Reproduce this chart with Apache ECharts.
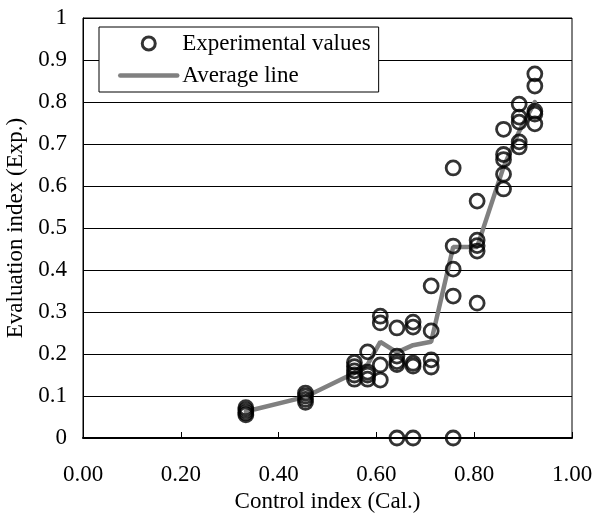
<!DOCTYPE html>
<html>
<head>
<meta charset="utf-8">
<script src="https://cdn.jsdelivr.net/npm/echarts@6/dist/echarts.min.js"></script>
<style>
  html, body { margin: 0; padding: 0; background: #fff; }
  #chart { width: 592px; height: 518px; }
</style>
</head>
<body>
<div id="chart"></div>
<script>
// control index of each measured group, and evaluation values measured there
var groupX = [0.333, 0.455, 0.555, 0.582, 0.608, 0.642, 0.675, 0.712, 0.757, 0.806, 0.86, 0.892, 0.924];
var groupY = [
    [0.055, 0.06, 0.066, 0.072],
    [0.085, 0.092, 0.1, 0.107],
    [0.14, 0.15, 0.16, 0.17, 0.18],
    [0.14, 0.15, 0.157, 0.205],
    [0.138, 0.174, 0.274, 0.29],
    [0, 0.175, 0.182, 0.195, 0.262],
    [0, 0.171, 0.178, 0.264, 0.276],
    [0.169, 0.186, 0.255, 0.362],
    [0, 0.338, 0.402, 0.457, 0.643],
    [0.321, 0.445, 0.458, 0.471, 0.564],
    [0.593, 0.628, 0.663, 0.675, 0.735],
    [0.693, 0.705, 0.752, 0.764, 0.795],
    [0.748, 0.771, 0.778, 0.838, 0.867]
];
var avgX = [0.333, 0.455, 0.555, 0.582, 0.608, 0.642, 0.675, 0.712, 0.757, 0.806, 0.86, 0.892, 0.924];
var avgY = [0.063, 0.098, 0.155, 0.175, 0.229, 0.204, 0.221, 0.229, 0.455, 0.455, 0.645, 0.73, 0.80];

var expData = [];
groupX.forEach(function (x, i) {
    groupY[i].forEach(function (y) {
        expData.push([x, y]);
    });
});
var avgData = avgX.map(function (x, i) { return [x, avgY[i]]; });

var font = '"Liberation Serif", "Times New Roman", serif';
var fs = 23;

var option = {
    backgroundColor: '#fff',
    animation: false,
    textStyle: { fontFamily: font },
    grid: {
        left: 83, right: 20, top: 18, bottom: 80,
        outerBoundsMode: 'none',
        containLabel: false,
        show: true, borderColor: '#000', borderWidth: 1
    },
    legend: {
        orient: 'vertical',
        left: 99, top: 27,
        padding: [5, 8, 5, 19],
        itemGap: 9,
        itemWidth: 57, itemHeight: 13,
        backgroundColor: '#fff',
        borderColor: '#000', borderWidth: 1,
        textStyle: { fontFamily: font, fontSize: fs, color: '#000' },
        data: [
            {
                name: 'Experimental values', icon: 'circle',
                itemStyle: { color: '#fff', borderColor: '#000', borderWidth: 3 }
            },
            {
                name: 'Average line',
                itemStyle: { color: 'rgba(0,0,0,0)', borderWidth: 0, opacity: 0 },
                lineStyle: { color: '#808080', width: 4.5, cap: 'round' }
            }
        ]
    },
    xAxis: {
        type: 'value',
        min: 0, max: 1, interval: 0.2,
        name: 'Control index (Cal.)',
        nameLocation: 'middle', nameGap: 51,
        nameTextStyle: { fontFamily: font, fontSize: fs, color: '#000' },
        axisLine: { lineStyle: { color: '#000', width: 2 } },
        axisTick: { inside: true, length: 6, lineStyle: { color: '#000' } },
        axisLabel: {
            fontFamily: font, fontSize: fs, color: '#000', margin: 25,
            formatter: function (v) { return v.toFixed(2); }
        },
        splitLine: { show: false }
    },
    yAxis: {
        type: 'value',
        min: 0, max: 1, interval: 0.1,
        name: 'Evaluation index (Exp.)',
        nameLocation: 'middle', nameGap: 56,
        nameTextStyle: { fontFamily: font, fontSize: fs, color: '#000' },
        axisLine: { show: true, lineStyle: { color: '#000' } },
        axisTick: { show: false },
        axisLabel: {
            fontFamily: font, fontSize: fs, color: '#000', margin: 16,
            formatter: function (v) { return String(Math.round(v * 10) / 10); }
        },
        splitLine: { lineStyle: { color: '#000', width: 1 } }
    },
    series: [
        {
            name: 'Average line',
            type: 'line',
            data: avgData,
            symbol: 'none',
            z: 2,
            lineStyle: { color: '#808080', width: 4.5, cap: 'round' },
            itemStyle: { color: '#808080' }
        },
        {
            name: 'Experimental values',
            type: 'scatter',
            data: expData,
            symbol: 'circle',
            symbolSize: 14,
            z: 3,
            itemStyle: { color: 'rgba(255,255,255,0)', borderColor: '#000', borderWidth: 2.8 }
        }
    ]
};

var chart = echarts.init(document.getElementById('chart'), null, { renderer: 'canvas' });
chart.setOption(option);
</script>
</body>
</html>
